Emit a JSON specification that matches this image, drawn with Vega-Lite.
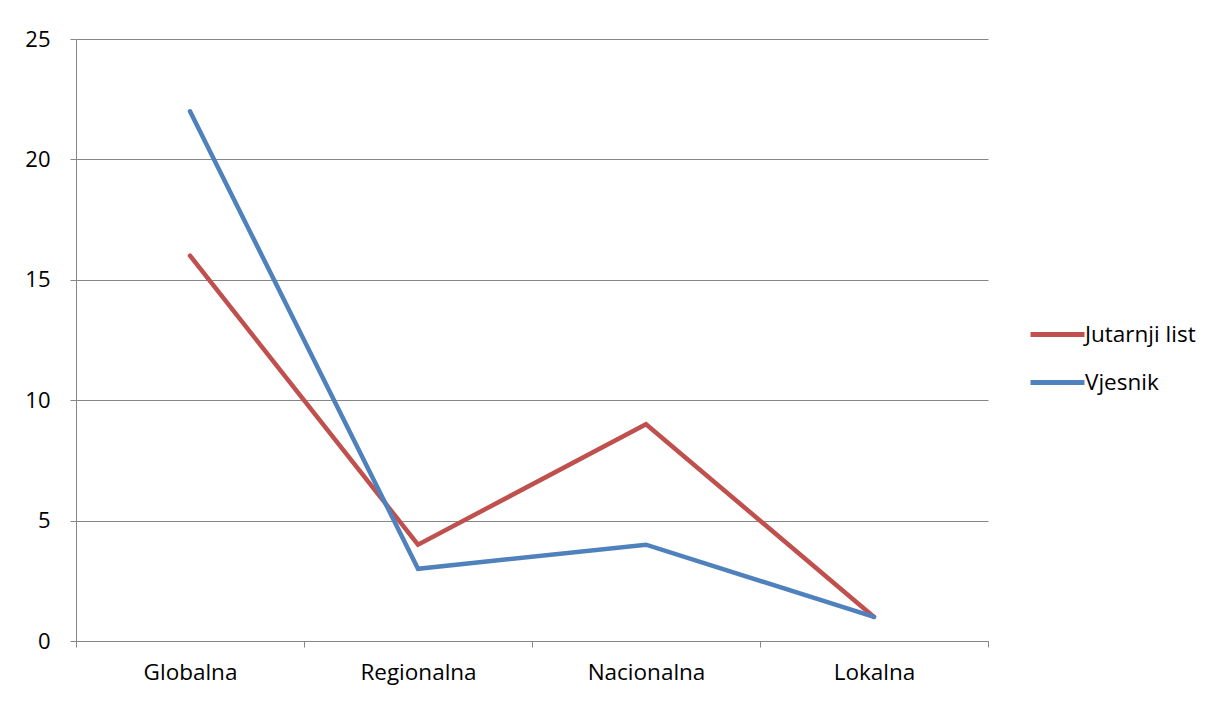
{
  "$schema": "https://vega.github.io/schema/vega-lite/v6.json",
  "autosize": "none",
  "width": 912,
  "height": 602,
  "padding": {"left": 76, "top": 39, "right": 241, "bottom": 61},
  "background": "white",
  "config": {
    "view": {"stroke": null},
    "font": "Open Sans"
  },
  "data": {
    "values": [
      {"kategorija": "Globalna", "serija": "Jutarnji list", "vrijednost": 16},
      {"kategorija": "Regionalna", "serija": "Jutarnji list", "vrijednost": 4},
      {"kategorija": "Nacionalna", "serija": "Jutarnji list", "vrijednost": 9},
      {"kategorija": "Lokalna", "serija": "Jutarnji list", "vrijednost": 1},
      {"kategorija": "Globalna", "serija": "Vjesnik", "vrijednost": 22},
      {"kategorija": "Regionalna", "serija": "Vjesnik", "vrijednost": 3},
      {"kategorija": "Nacionalna", "serija": "Vjesnik", "vrijednost": 4},
      {"kategorija": "Lokalna", "serija": "Vjesnik", "vrijednost": 1}
    ]
  },
  "mark": {"type": "line", "strokeWidth": 4.5, "strokeCap": "round", "strokeJoin": "miter"},
  "encoding": {
    "x": {
      "field": "kategorija",
      "type": "nominal",
      "sort": ["Globalna", "Regionalna", "Nacionalna", "Lokalna"],
      "scale": {"type": "band", "paddingInner": 0, "paddingOuter": 0},
      "axis": {
        "title": null,
        "labelAngle": 0,
        "tickBand": "extent",
        "grid": false,
        "domainColor": "#868686",
        "tickColor": "#868686",
        "tickSize": 6,
        "labelPadding": 14,
        "labelFontSize": 22.5,
        "labelColor": "#000000",
        "labelFont": "Open Sans"
      }
    },
    "y": {
      "field": "vrijednost",
      "type": "quantitative",
      "scale": {"domain": [0, 25], "nice": false},
      "axis": {
        "title": null,
        "values": [0, 5, 10, 15, 20, 25],
        "grid": true,
        "gridColor": "#868686",
        "gridWidth": 1,
        "domainColor": "#868686",
        "tickColor": "#868686",
        "tickSize": 6,
        "labelPadding": 20,
        "labelFontSize": 22,
        "labelColor": "#000000",
        "labelFont": "Open Sans"
      }
    },
    "color": {
      "field": "serija",
      "type": "nominal",
      "scale": {"domain": ["Jutarnji list", "Vjesnik"], "range": ["#C0504D", "#4F81BD"]},
      "legend": {
        "title": null,
        "orient": "none",
        "legendX": 952,
        "legendY": 266,
        "symbolType": "stroke",
        "symbolSize": 2916,
        "symbolStrokeWidth": 5,
        "labelFontSize": 22.5,
        "labelColor": "#000000",
        "labelFont": "Open Sans",
        "rowPadding": 7,
        "labelOffset": -2
      }
    }
  }
}
